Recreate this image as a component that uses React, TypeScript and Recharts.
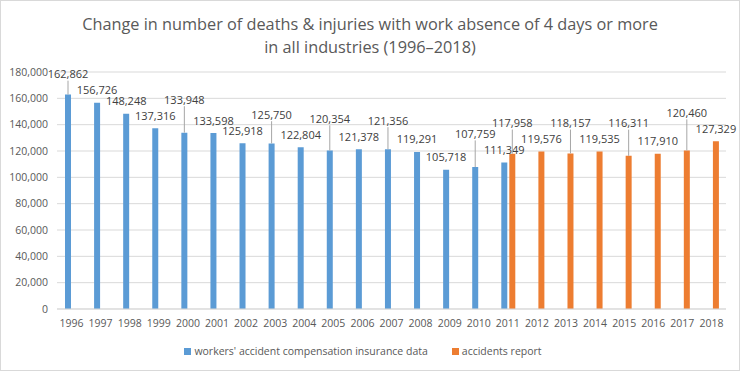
import React from "react";
import {
  Bar,
  BarChart,
  CartesianGrid,
  LabelList,
  Legend,
  XAxis,
  YAxis,
} from "recharts";

const years = [
  "1996", "1997", "1998", "1999", "2000", "2001", "2002", "2003", "2004", "2005", "2006", "2007",
  "2008", "2009", "2010", "2011", "2012", "2013", "2014", "2015", "2016", "2017", "2018",
];

// workers' accident compensation insurance data (1996–2011)
const compensation: (number | null)[] = [
  162862, 156726, 148248, 137316, 133948, 133598, 125918, 125750, 122804, 120354, 121378, 121356,
  119291, 105718, 107759, 111349, null, null, null, null, null, null, null,
];

// accidents report (2011–2018)
const reports: (number | null)[] = [
  null, null, null, null, null, null, null, null, null, null, null, null,
  null, null, null, 117958, 119576, 118157, 119535, 116311, 117910, 120460, 127329,
];

const yTicks = [0, 20000, 40000, 60000, 80000, 100000, 120000, 140000, 160000, 180000];

// labels that sit higher with a leader line
const leaderYears = {
  comp: ["1996", "2000", "2003", "2005", "2007", "2010"],
  rep: ["2011", "2013", "2015", "2017"],
};

const COMP_NAME = "workers' accident compensation insurance data";
const REP_NAME = "accidents report";
const BLUE = "#5B9BD5";
const ORANGE = "#ED7D31";
const FONT = '"Open Sans", sans-serif';

const data = years.map((year, i) => ({
  year,
  comp: compensation[i],
  rep: reports[i],
}));

// labels in left-to-right order, both series
const labelSeq: { series: "comp" | "rep"; year: string; value: number }[] = [];
years.forEach((year, i) => {
  if (compensation[i] != null) labelSeq.push({ series: "comp", year, value: compensation[i] as number });
  if (reports[i] != null) labelSeq.push({ series: "rep", year, value: reports[i] as number });
});

const makeLabel = (series: "comp" | "rep") => (props: any) => {
  const x = Number(props.x);
  const y = Number(props.y);
  const width = Number(props.width);
  const height = Number(props.height);
  const value = props.value;
  if (value == null || !height) return null;

  // values are unique inside a series, so find the label by its value
  const pos = labelSeq.findIndex((s) => s.series === series && s.value === Number(value));
  if (pos < 0) return null;
  const entry = labelSeq[pos];

  const k = height / value;
  const base = y + height;
  const normal = (v: number) => base - v * k - 13;
  const cx = x + width / 2;
  let cy = normal(value);

  const lifted = leaderYears[series].includes(entry.year);
  if (lifted) {
    const around = [labelSeq[pos - 1], labelSeq[pos + 1]]
      .filter(Boolean)
      .map((s) => normal(s.value));
    cy = Math.min(...around) - 16;
  }

  return (
    <g key={`${series}-${entry.year}`}>
      {lifted && (
        <line x1={cx} y1={y} x2={cx} y2={cy + 7} stroke="#A6A6A6" strokeWidth={1} />
      )}
      <text
        x={cx}
        y={cy}
        textAnchor="middle"
        dominantBaseline="central"
        fontSize={11}
        fontFamily={FONT}
        fill="#404040"
      >
        {Number(value).toLocaleString("en-US")}
      </text>
    </g>
  );
};

const renderLegend = () => (
  <div
    style={{
      display: "flex",
      justifyContent: "center",
      gap: 24,
      fontSize: 10.5,
      fontFamily: FONT,
      color: "#595959",
    }}
  >
    {[
      { name: COMP_NAME, color: BLUE },
      { name: REP_NAME, color: ORANGE },
    ].map((item) => (
      <div key={item.name} style={{ display: "flex", alignItems: "center", gap: 3 }}>
        <span style={{ width: 7, height: 7, background: item.color, display: "inline-block" }} />
        <span>{item.name}</span>
      </div>
    ))}
  </div>
);

export default function App() {
  return (
    <div
      style={{
        position: "absolute",
        left: 0,
        top: 0,
        width: 740,
        height: 371,
        background: "#fff",
        fontFamily: FONT,
      }}
    >
      <div
        style={{
          position: "absolute",
          top: 13,
          left: 0,
          width: 740,
          textAlign: "center",
          fontSize: 16.3,
          lineHeight: "23px",
          color: "#595959",
        }}
      >
        Change in number of deaths &amp; injuries with work absence of 4 days or more
        <br />
        in all industries (1996–2018)
      </div>

      <BarChart
        width={740}
        height={371}
        data={data}
        margin={{ top: 72, right: 14, left: 0, bottom: 13 }}
        barGap={2}
        barSize={6}
      >
        <CartesianGrid vertical={false} stroke="#D9D9D9" />
        <XAxis
          dataKey="year"
          height={35}
          axisLine={{ stroke: "#D9D9D9" }}
          tickLine={false}
          tickMargin={5}
          interval={0}
          tick={{ fontSize: 10.5, fill: "#595959", fontFamily: FONT }}
        />
        <YAxis
          width={57}
          domain={[0, 180000]}
          ticks={yTicks}
          axisLine={false}
          tickLine={false}
          tickMargin={3}
          tickFormatter={(v) => Number(v).toLocaleString("en-US")}
          tick={{ fontSize: 10.5, fill: "#595959", fontFamily: FONT }}
        />
        <Legend verticalAlign="bottom" content={renderLegend} />
        <Bar dataKey="comp" name={COMP_NAME} fill={BLUE} isAnimationActive={false}>
          <LabelList dataKey="comp" content={makeLabel("comp")} />
        </Bar>
        <Bar dataKey="rep" name={REP_NAME} fill={ORANGE} isAnimationActive={false}>
          <LabelList dataKey="rep" content={makeLabel("rep")} />
        </Bar>
      </BarChart>

      <div
        style={{
          position: "absolute",
          left: 0,
          top: 0,
          width: 740,
          height: 371,
          border: "1px solid #D9D9D9",
          boxSizing: "border-box",
          pointerEvents: "none",
        }}
      />
    </div>
  );
}
